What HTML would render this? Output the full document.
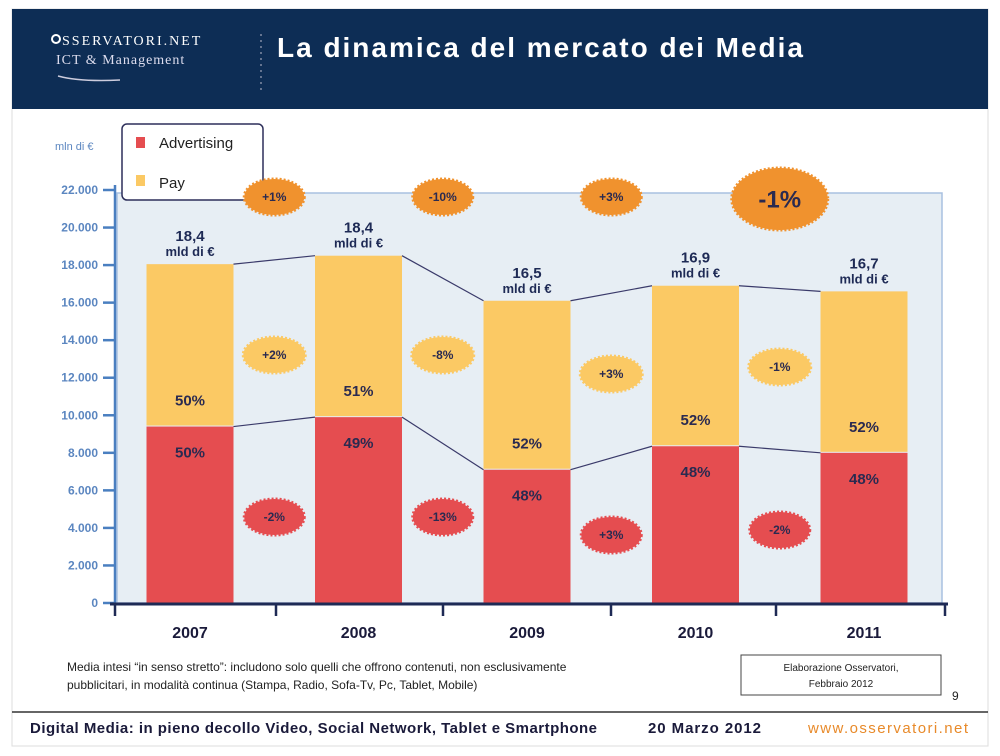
<!DOCTYPE html>
<html><head><meta charset="utf-8">
<style>
body{margin:0;background:#fff;width:1000px;height:756px;overflow:hidden;font-family:"Liberation Sans",sans-serif;}
svg{display:block}
</style></head>
<body>
<svg id="chart" width="1000" height="756" viewBox="0 0 1000 756">
<rect x="12" y="9" width="976" height="737" fill="#fff" stroke="#ddd"/>
<rect x="12" y="9" width="976" height="100" fill="#0d2d55"/>
<circle cx="56" cy="39" r="4" fill="none" stroke="#fff" stroke-width="2"/>
<text x="62" y="45" fill="#fff" font-family="Liberation Serif" font-size="14" letter-spacing="2">SSERVATORI.NET</text>
<text x="56" y="64" fill="#dde" font-family="Liberation Serif" font-size="14" letter-spacing="1">ICT &amp; Management</text>
<path d="M58 76 Q80 82 120 80" stroke="#ccd" stroke-width="1.5" fill="none"/>
<line x1="261" y1="34" x2="261" y2="92" stroke="#bbc" stroke-dasharray="2 4"/>
<text x="277" y="57" fill="#fff" font-size="28" font-weight="bold" textLength="526">La dinamica del mercato dei Media</text>
<text x="55" y="150" fill="#5b86c0" font-size="11">mln di €</text>
<rect x="117" y="193" width="825" height="410" fill="#e7eef4" stroke="#a8c0e0" stroke-width="1.5"/>
<rect x="122" y="124" width="141" height="76" rx="5" fill="#fff" stroke="#2d2f5a" stroke-width="1.5"/>
<rect x="136" y="137" width="9" height="11" fill="#e54d50"/>
<text x="159" y="148" font-size="15" fill="#222">Advertising</text>
<rect x="136" y="175" width="9" height="11" fill="#fbc964"/>
<text x="159" y="188" font-size="15" fill="#222">Pay</text>
<g id="g"></g>
<text x="67" y="671" font-size="12" fill="#222">Media intesi “in senso stretto”: includono solo quelli che offrono contenuti, non esclusivamente</text>
<text x="67" y="689" font-size="12" fill="#222">pubblicitari, in modalità continua (Stampa, Radio, Sofa-Tv, Pc, Tablet, Mobile)</text>
<rect x="741" y="655" width="200" height="40" fill="#fff" stroke="#444"/>
<text x="841" y="671" font-size="10" fill="#222" text-anchor="middle">Elaborazione Osservatori,</text>
<text x="841" y="687" font-size="10" fill="#222" text-anchor="middle">Febbraio 2012</text>
<text x="952" y="700" font-size="12" fill="#222">9</text>
<line x1="12" y1="712" x2="988" y2="712" stroke="#333" stroke-width="1.5"/>
<text x="30" y="733" font-size="15" font-weight="bold" fill="#1a1a3a" textLength="567">Digital Media: in pieno decollo Video, Social Network, Tablet e Smartphone</text>
<text x="648" y="733" font-size="15" font-weight="bold" fill="#1a1a3a" textLength="113">20 Marzo 2012</text>
<text x="808" y="733" font-size="15" fill="#e88a2a" textLength="160">www.osservatori.net</text>
</svg>
<script>
const years=["2007","2008","2009","2010","2011"];
const adv=[9400,9900,7100,8350,8000];
const pay=[8650,8600,9000,8550,8600];
const totals=["18,4","18,4","16,5","16,9","16,7"];
const payPct=["50%","51%","52%","52%","52%"];
const advPct=["50%","49%","48%","48%","48%"];
const totChg=["+1%","-10%","+3%","-1%"];
const payChg=["+2%","-8%","+3%","-1%"];
const advChg=["-2%","-13%","+3%","-2%"];
const yTicks=[0,2000,4000,6000,8000,10000,12000,14000,16000,18000,20000,22000];

const NS="http://www.w3.org/2000/svg",g=document.getElementById('g');
function el(t,a,txt){const e=document.createElementNS(NS,t);for(const k in a)e.setAttribute(k,a[k]);if(txt!=null)e.textContent=txt;g.appendChild(e);return e;}
const y=v=>603-v*(413/22000);
const cx=i=>190+i*168.5;
const bw=87;
yTicks.forEach(v=>{
 const t=el('line',{x1:103,x2:115,y1:y(v),y2:y(v),stroke:'#4a7fc0','stroke-width':2.5});
 
 
 const l=el('text',{x:98,y:y(v)+4,'text-anchor':'end','font-size':12,'font-weight':'bold',fill:'#5b86c0'},v===0?'0':(v/1000).toFixed(3));
 
 
});
const ax=el('line',{x1:115,x2:115,y1:185,y2:603,stroke:'#4a7fc0','stroke-width':2.5});


years.forEach((yr,i)=>{
 const x=cx(i)-bw/2;
 const a=el('rect',{x:x,y:y(adv[i]),width:bw,height:603-y(adv[i]),fill:'#e54d50'});
 
 
 const p=el('rect',{x:x,y:y(adv[i]+pay[i]),width:bw,height:y(adv[i])-y(adv[i]+pay[i])-1,fill:'#fbc964'});
 
 
 const tt=y(adv[i]+pay[i]);
 const t1=el('text',{x:cx(i),y:tt-23,'text-anchor':'middle','font-size':15,'font-weight':'bold',fill:'#1e2a55'},totals[i]);
 
 
 const t2=el('text',{x:cx(i),y:tt-8,'text-anchor':'middle','font-size':13,'font-weight':'bold',fill:'#1e2a55'},'mld di €');
 
 
 const pp=el('text',{x:cx(i),y:y(adv[i])-21,'text-anchor':'middle','font-size':15,'font-weight':'bold',fill:'#2a2a50'},payPct[i]);
 
 
 const ap=el('text',{x:cx(i),y:y(adv[i])+31,'text-anchor':'middle','font-size':15,'font-weight':'bold',fill:'#2a2a50'},advPct[i]);
 
 
 const xl=el('text',{x:cx(i),y:638,'text-anchor':'middle','font-size':16,'font-weight':'bold',fill:'#1a1a3a'},yr);
 
 
 if(i<years.length-1){
  const l1=el('line',{x1:x+bw,y1:tt,x2:cx(i+1)-bw/2,y2:y(adv[i+1]+pay[i+1]),stroke:'#3a3a6a','stroke-width':1.2});
  
  
  const l2=el('line',{x1:x+bw,y1:y(adv[i]),x2:cx(i+1)-bw/2,y2:y(adv[i+1]),stroke:'#3a3a6a','stroke-width':1.2});
  
  
 }
});
const ax2=el('line',{x1:110,x2:948,y1:604,y2:604,stroke:'#1e2a55','stroke-width':3});


[115,276,443,611,776,945].forEach(x=>{
 const t=el('line',{x1:x,x2:x,y1:603,y2:616,stroke:'#1e2a55','stroke-width':2.5});
 
 
});
function badge(x,yy,rx,ry,fill,txt,fs,name){
 const e=el('ellipse',{cx:x,cy:yy,rx:rx,ry:ry,fill:fill,stroke:fill,'stroke-width':3,'stroke-dasharray':'2 2'});
 
 
 const t=el('text',{x:x,y:yy+fs*0.35,'text-anchor':'middle','font-size':fs,'font-weight':'bold',fill:'#2a2a50'},txt);
 
 
}
const mid=i=>(cx(i)+cx(i+1))/2;
totChg.forEach((c,i)=>{ if(i===3) badge(mid(i),199,48,31,'#f0922e',c,24,'badge-total-change-'+i); else badge(mid(i),197,30,18,'#f0922e',c,12,'badge-total-change-'+i);});
payChg.forEach((c,i)=>badge(mid(i),[355,355,374,367][i],31,18,'#fbc964',c,12,'badge-pay-change-'+i));
advChg.forEach((c,i)=>badge(mid(i),[517,517,535,530][i],30,18,'#e54d50',c,12,'badge-adv-change-'+i));
</script>
</body></html>
